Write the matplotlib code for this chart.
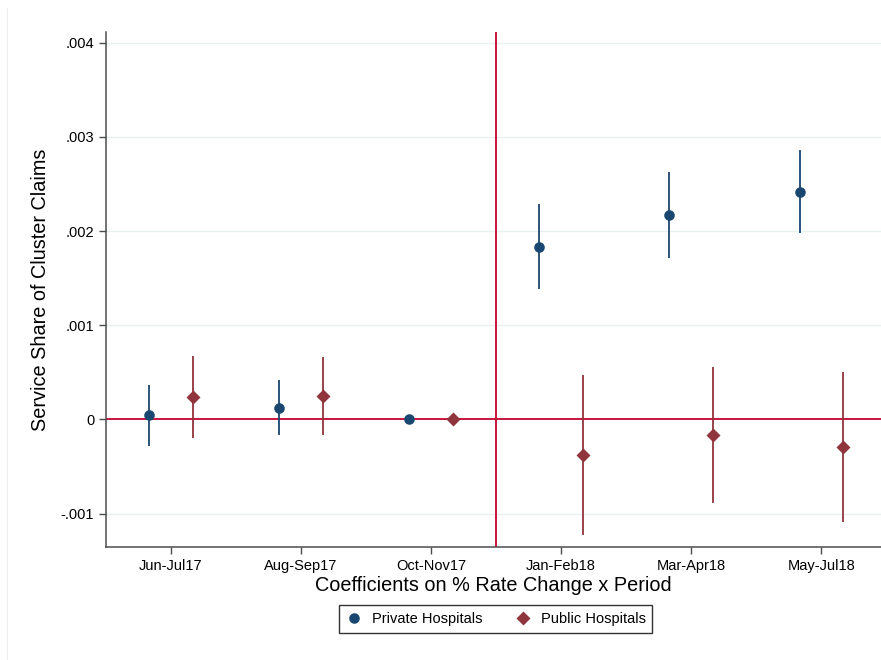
import numpy as np
import matplotlib
matplotlib.use('Agg')
import matplotlib.pyplot as plt
from matplotlib.lines import Line2D

plt.rcParams['font.family'] = ['Liberation Sans', 'DejaVu Sans']

periods = ['Jun-Jul17', 'Aug-Sep17', 'Oct-Nov17', 'Jan-Feb18', 'Mar-Apr18', 'May-Jul18']

# private hospitals: coefficient and 95% CI
priv_coef = [0.000045, 0.000125, 0.0, 0.001834, 0.002171, 0.002418]
priv_lo = [-0.000278, -0.000168, 0.0, 0.001389, 0.001718, 0.001980]
priv_hi = [0.000366, 0.000419, 0.0, 0.002284, 0.002627, 0.002861]

# public hospitals
pub_coef = [0.000235, 0.000249, 0.0, -0.000380, -0.000161, -0.000295]
pub_lo = [-0.000200, -0.000161, 0.0, -0.001226, -0.000883, -0.001085]
pub_hi = [0.000674, 0.000667, 0.0, 0.000472, 0.000560, 0.000504]

yticks = [-0.001, 0, 0.001, 0.002, 0.003, 0.004]
ytick_labels = ['-.001', '0', '.001', '.002', '.003', '.004']

navy = '#1a476f'
maroon = '#90353b'
red = '#c8143c'
grid_col = '#e8f0f1'
axis_col = '#4d4d4d'

fig = plt.figure(figsize=(8.81, 6.6), dpi=100)
ax = fig.add_axes([106/881, 1 - 547/660, 775/881, (547 - 32)/660])

x = np.arange(1, len(periods) + 1)
off = 1/6

for yv in yticks:
    if yv != 0:
        ax.axhline(yv, color=grid_col, lw=1.0, zorder=0)

ax.axhline(0, color=red, lw=1.4, zorder=1)
ax.axvline(3.5, color=red, lw=1.4, zorder=1)

ax.vlines(x - off, priv_lo, priv_hi, color=navy, lw=1.3, zorder=2)
ax.vlines(x + off, pub_lo, pub_hi, color=maroon, lw=1.3, zorder=2)
ax.plot(x - off, priv_coef, 'o', color=navy, ms=7.6, mec='none', zorder=3, label='Private Hospitals')
ax.plot(x + off, pub_coef, 'D', color=maroon, ms=7.2, mec='none', zorder=3, label='Public Hospitals')

ax.set_xlim(0.5, 6.46)
ax.set_ylim(-0.001354, 0.004114)
ax.set_xticks(x)
ax.set_xticklabels(periods, fontsize=10.5)
ax.set_yticks(yticks)
ax.set_yticklabels(ytick_labels, fontsize=10.5)

for s in ['top', 'right']:
    ax.spines[s].set_visible(False)
for s in ['left', 'bottom']:
    ax.spines[s].set_color(axis_col)
    ax.spines[s].set_linewidth(1.1)
ax.tick_params(axis='both', colors=axis_col, length=5, width=1.0, labelcolor='black')

ax.set_xlabel('Coefficients on % Rate Change x Period', fontsize=14.3, labelpad=2)
ax.set_ylabel('Service Share of Cluster Claims', fontsize=14.3, labelpad=8)

leg = fig.legend(loc='center', bbox_to_anchor=(495.7/881, 1 - 619/660), ncol=2,
                 fontsize=10.5, frameon=True, fancybox=False, edgecolor='black',
                 handletextpad=0.6, columnspacing=2.2, borderpad=0.45, handlelength=1.2)
leg.get_frame().set_linewidth(1.0)

fig.add_artist(Line2D([7/881, 7/881], [0, 1 - 8/660], color='#eeeeee', lw=0.8))

fig.savefig('out.png', dpi=100)
